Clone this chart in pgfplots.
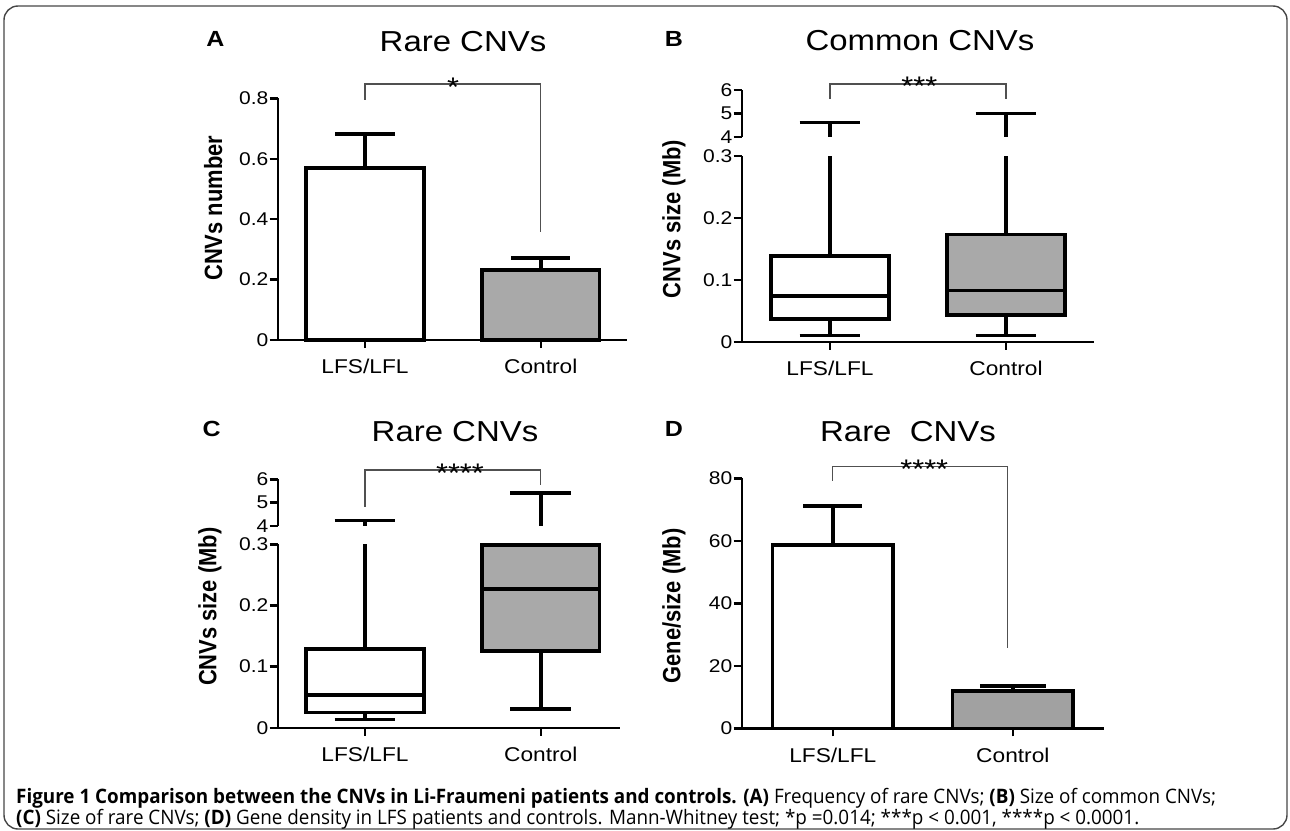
\documentclass[border=0pt]{standalone}
\usepackage{fontspec}
\setmainfont{Liberation Sans}
\newfontfamily\capfont{Open Sans}
\usepackage{graphicx}
\usepackage{pgfplots}
\pgfplotsset{compat=1.18}
\usepgfplotslibrary{statistics}

\definecolor{ctrlgray}{RGB}{169,169,169}
\definecolor{ctrlgrayD}{RGB}{161,161,161}
\definecolor{brk}{RGB}{80,80,80}
\definecolor{framecol}{RGB}{70,70,70}
\definecolor{captext}{RGB}{35,35,35}

\newcommand{\fs}[1]{\fontsize{#1}{#1}\selectfont}
\newsavebox\capA
\newsavebox\capB

\pgfplotsset{
  panel/.style={
    scale only axis, anchor=south west, clip=false,
    axis line style={line width=2.4bp,-},
    tick style={line width=2.4bp,black},
    major tick length=8bp, tick align=outside,
    /pgf/number format/assume math mode=true,
    yticklabel style={font=\fs{18.5}, xscale=1.14, inner xsep=1bp},
    xticklabel style={font=\fs{20}, xscale=1.14, yshift=-8bp},
    xtick={1,2}, xticklabels={LFS/LFL,Control},
  },
  lowpart/.style={panel, axis x line*=bottom, axis y line*=left},
  highpart/.style={panel, axis x line=none, axis y line*=left,
    ymin=4, ymax=6, ytick={4,5,6}},
  boxes/.style={
    boxplot/draw direction=y,
    boxplot/box extend=0.67,
    boxplot/whisker extend=0.345,
    % whisker runs up to the axis break, no cap there
    boxplot/draw/upper whisker/.code={%
      \draw[/pgfplots/boxplot/every whisker/.try]
        (boxplot box cs:\pgfplotsboxplotvalue{upper quartile},0.5) --
        (boxplot box cs:\pgfplotsboxplotvalue{upper whisker},0.5);},
  },
  bar/.style={ybar, bar width=0.67, bar shift=0pt, draw=black, line width=3.6bp},
  bracket/.style={brk, line width=1.3bp},
  thick line/.style={black, line width=3.6bp},
}

\begin{document}
\sbox\capA{\capfont\fs{20}\textbf{Figure 1 Comparison between the CNVs in Li-Fraumeni patients and controls. (A)} Frequency of rare CNVs; \textbf{(B)} Size of common CNVs;}%
\sbox\capB{\capfont\fs{20}\textbf{(C)} Size of rare CNVs; \textbf{(D)} Gene density in LFS patients and controls. Mann-Whitney test; *p =0.014; ***p < 0.001, ****p < 0.0001.}%
\pgfmathsetmacro\capsc{1204.5/\the\wd\capA}%
\begin{tikzpicture}
\useasboundingbox (0,0) rectangle (1290bp,-831bp);
\draw[framecol, line width=1.4bp, rounded corners=14bp] (4bp,-6bp) rectangle (1287bp,-829bp);

% ---------- A: rare CNVs, number ----------
\begin{axis}[lowpart, at={(277.7bp,-340bp)}, width=349bp, height=241.7bp,
  xmin=0.503, xmax=2.489, ymin=0, ymax=0.8, ytick={0,0.2,0.4,0.6,0.8}]
  \addplot[bar, fill=white, error bars/.cd, y dir=plus, y explicit,
    error bar style={line width=3.6bp, black},
    error mark options={rotate=90, line width=3.6bp, mark size=30bp, black}]
    coordinates {(1,0.570) +- (0,0.112)};
  \addplot[bar, fill=ctrlgray, error bars/.cd, y dir=plus, y explicit,
    error bar style={line width=3.6bp, black},
    error mark options={rotate=90, line width=3.6bp, mark size=29.5bp, black}]
    coordinates {(2,0.232) +- (0,0.040)};
  \addplot[bracket] coordinates {(1,0.795) (1,0.847) (2,0.847) (2,0.357)};
\end{axis}

% ---------- B: common CNVs, size (broken axis) ----------
\begin{axis}[lowpart, boxes, at={(741.7bp,-341.7bp)}, width=352.6bp, height=185.7bp,
  xmin=0.498, xmax=2.502, ymin=0, ymax=0.3, ytick={0,0.1,0.2,0.3}]
  \addplot[thick line, fill=white, boxplot prepared={draw position=1,
    lower whisker=0.0097, lower quartile=0.0362, median=0.0743,
    upper quartile=0.1385, upper whisker=0.3}] coordinates {};
  \addplot[thick line, fill=ctrlgray, boxplot prepared={draw position=2,
    lower whisker=0.0097, lower quartile=0.0431, median=0.0824,
    upper quartile=0.1735, upper whisker=0.3}] coordinates {};
\end{axis}
\begin{axis}[highpart, at={(741.7bp,-136.7bp)}, width=352.6bp, height=46.7bp,
  xmin=0.498, xmax=2.502]
  \addplot[thick line] coordinates {(1,4) (1,4.6)};
  \addplot[thick line] coordinates {(0.8275,4.6) (1.1725,4.6)};
  \addplot[thick line] coordinates {(2,4) (2,5.0)};
  \addplot[thick line] coordinates {(1.8275,5.0) (2.1725,5.0)};
  \addplot[bracket] coordinates {(1,5.614) (1,6.257) (2,6.257) (2,5.614)};
\end{axis}

% ---------- C: rare CNVs, size (broken axis) ----------
\begin{axis}[lowpart, boxes, at={(277.7bp,-727.7bp)}, width=342.3bp, height=183.4bp,
  xmin=0.503, xmax=2.451, ymin=0, ymax=0.3, ytick={0,0.1,0.2,0.3}]
  \addplot[thick line, fill=white, boxplot prepared={draw position=1,
    lower whisker=0.0137, lower quartile=0.0252, median=0.0535,
    upper quartile=0.1288, upper whisker=0.3}] coordinates {};
  \addplot[thick line, fill=ctrlgray, boxplot prepared={draw position=2,
    lower whisker=0.0306, lower quartile=0.1255, median=0.2265,
    upper quartile=0.2985, upper whisker=0.3}] coordinates {};
\end{axis}
\begin{axis}[highpart, at={(277.7bp,-525.7bp)}, width=342.3bp, height=46.4bp,
  xmin=0.503, xmax=2.451]
  \addplot[thick line] coordinates {(1,4) (1,4.22)};
  \addplot[thick line] coordinates {(0.8275,4.22) (1.1725,4.22)};
  \addplot[thick line] coordinates {(2,4) (2,5.42)};
  \addplot[thick line] coordinates {(1.8275,5.42) (2.1725,5.42)};
  \addplot[bracket] coordinates {(1,4.82) (1,6.40) (2,6.40) (2,5.75)};
\end{axis}

% ---------- D: rare CNVs, gene density ----------
\begin{axis}[lowpart, at={(741.7bp,-728.3bp)}, width=362.6bp, height=250bp,
  xmin=0.494, xmax=2.508, ymin=0, ymax=80, ytick={0,20,40,60,80}]
  \addplot[bar, fill=white, error bars/.cd, y dir=plus, y explicit,
    error bar style={line width=3.6bp, black},
    error mark options={rotate=90, line width=3.6bp, mark size=29.5bp, black}]
    coordinates {(1,58.66) +- (0,12.44)};
  \addplot[bar, fill=ctrlgrayD, error bars/.cd, y dir=plus, y explicit,
    error bar style={line width=3.6bp, black},
    error mark options={rotate=90, line width=3.6bp, mark size=33bp, black}]
    coordinates {(2,11.9) +- (0,1.6)};
  \addplot[bracket] coordinates {(1,79.2) (1,83.7) (1.97,83.7) (1.97,25.6)};
\end{axis}

% ---------- titles, panel letters, axis titles, stars ----------
\begin{scope}[every node/.style={inner sep=0pt, xscale=1.14}]
  \node[anchor=base, font=\fs{29}] at (463bp,-51.7bp) {Rare CNVs};
  \node[anchor=base, font=\fs{29}] at (920bp,-50.7bp) {Common CNVs};
  \node[anchor=base, font=\fs{29}] at (455bp,-441.7bp) {Rare CNVs};
  \node[anchor=base, font=\fs{29}] at (908bp,-441.7bp) {Rare\ \ CNVs};
  \node[anchor=base, font=\bfseries\fs{22}] at (215.5bp,-46.7bp) {A};
  \node[anchor=base, font=\bfseries\fs{22}] at (674bp,-46.7bp) {B};
  \node[anchor=base, font=\bfseries\fs{22}] at (211.7bp,-436.7bp) {C};
  \node[anchor=base, font=\bfseries\fs{22}] at (674bp,-436.7bp) {D};
  \node[rotate=90, font=\bfseries\fs{22}] at (213.3bp,-208.3bp) {CNVs number};
  \node[rotate=90, font=\bfseries\fs{22}] at (674bp,-219bp) {CNVs size (Mb)};
  \node[rotate=90, font=\bfseries\fs{22}] at (210bp,-606.7bp) {CNVs size (Mb)};
  \node[rotate=90, font=\bfseries\fs{22}] at (674bp,-606bp) {Gene/size (Mb)};
  \node[anchor=base, font=\fs{27}] at (453bp,-96.8bp) {*};
  \node[anchor=base, font=\fs{27}] at (919.3bp,-95.3bp) {***};
  \node[anchor=base, font=\fs{27}] at (460bp,-482.3bp) {****};
  \node[anchor=base, font=\fs{27}] at (924.3bp,-478bp) {****};
\end{scope}

% ---------- caption ----------
\node[anchor=base west, inner sep=0pt, captext] at (16bp,-803bp) {\scalebox{\capsc}[1]{\usebox\capA}};
\node[anchor=base west, inner sep=0pt, captext] at (16bp,-824bp) {\scalebox{\capsc}[1]{\usebox\capB}};
\end{tikzpicture}
\end{document}
